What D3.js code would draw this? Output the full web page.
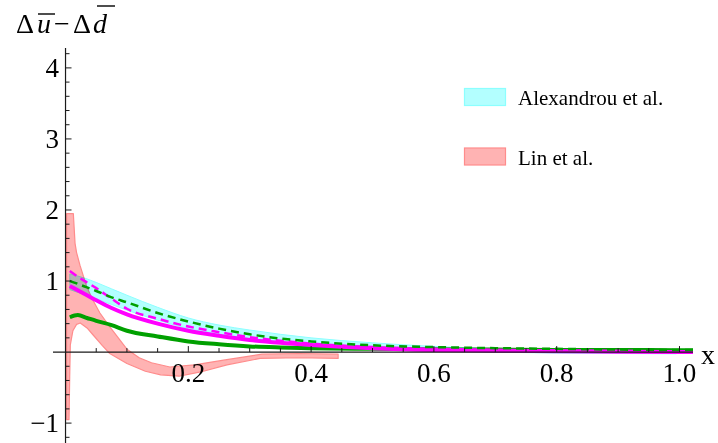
<!DOCTYPE html>
<html><head><meta charset="utf-8">
<script src="https://cdn.jsdelivr.net/npm/d3@7"></script>
<style>
body{margin:0;background:#fff;}
svg{display:block;}
</style></head>
<body><svg id="c" width="718" height="443"></svg>
<script>
// ---- data ----
const linX    = [0.0018,0.0057,0.0068,0.0078,0.0127,0.0155,0.018,0.0236,0.0345,0.044,0.056,0.07,0.085,0.1,0.12,0.14,0.17,0.21,0.26,0.32,0.38,0.444];
const linUp   = [1.95,1.95,1.95,1.95,1.95,1.53,1.40,1.22,0.92,0.74,0.55,0.38,0.21,0.04,-0.08,-0.15,-0.21,-0.18,-0.11,-0.03,-0.02,-0.03];
const linLoX  = [0.0018,0.0057,0.0068,0.0078,0.012,0.018,0.024,0.035,0.045,0.06,0.072,0.1,0.13,0.155,0.185,0.22,0.263,0.317,0.38,0.444];
const linLo   = [-0.95,-0.95,-0.35,0.1,0.30,0.39,0.41,0.34,0.24,0.09,-0.02,-0.16,-0.27,-0.32,-0.34,-0.28,-0.18,-0.09,-0.08,-0.09];

const alexX   = [0.007,0.02,0.035,0.05,0.075,0.1,0.15,0.2,0.25,0.3,0.35,0.4,0.5,0.6,0.7,0.8,0.9,0.995];
const alexUp  = [1.10,1.07,1.03,0.98,0.89,0.80,0.63,0.48,0.38,0.31,0.25,0.20,0.13,0.08,0.05,0.035,0.025,0.02];
const alexLo  = [0.88,0.84,0.80,0.75,0.67,0.59,0.45,0.33,0.25,0.19,0.14,0.10,0.05,0.02,0.0,-0.015,-0.02,-0.025];

const curveX       = [0.007,0.02,0.035,0.05,0.075,0.1,0.15,0.2,0.25,0.3,0.35,0.4,0.5,0.6,0.7,0.8,0.9,1.0,1.022];
const greenDashed  = [1.00,0.96,0.91,0.86,0.77,0.70,0.55,0.43,0.33,0.25,0.19,0.15,0.095,0.07,0.055,0.045,0.035,0.03,0.03];
const magentaDashed= [1.14,1.06,0.98,0.90,0.75,0.61,0.47,0.36,0.28,0.21,0.16,0.12,0.07,0.045,0.03,0.02,0.015,0.01,0.01];
const magentaSolid = [0.93,0.87,0.80,0.73,0.62,0.53,0.40,0.30,0.23,0.17,0.13,0.10,0.055,0.03,0.02,0.01,0.005,0.0,0.0];
const greenSolid   = [0.49,0.52,0.48,0.44,0.38,0.30,0.22,0.15,0.11,0.08,0.065,0.055,0.045,0.04,0.035,0.03,0.03,0.025,0.025];

const xTickVals   = [0.2,0.4,0.6,0.8,1.0];
const xTickLabels = ["0.2","0.4","0.6","0.8","1.0"];
const yTickVals   = [-1,1,2,3,4];
const yTickLabels = ["\u22121","1","2","3","4"];
const legendLabels = ["Alexandrou et al.","Lin et al."];

const FONT = "'Liberation Serif', 'Times New Roman', 'DejaVu Serif', serif";

// ---- scales ----
const svg = d3.select("#c");
const x = d3.scaleLinear().domain([-0.0204,1.022]).range([53,693]);
const y = d3.scaleLinear().domain([-1.28,4.28]).range([443,48]);
const X0 = x(0), Y0 = y(0);

// ---- bands ----
const linPoly = linX.map((v,i)=>[x(v),y(linUp[i])]).concat(linLoX.map((v,i)=>[x(v),y(linLo[i])]).reverse());
svg.append("path").attr("d", d3.line()(linPoly)+"Z")
  .attr("fill","#ffb3b3").attr("stroke","#ff8c8c").attr("stroke-width",1.2).attr("stroke-linejoin","round");

const alexArea = d3.area().x((d,i)=>x(alexX[i])).y0((d,i)=>y(alexLo[i])).y1((d,i)=>y(alexUp[i])).curve(d3.curveMonotoneX);
svg.append("path").attr("d", alexArea(alexX))
  .attr("fill","#b3ffff").attr("stroke","#8cffff").attr("stroke-width",1)
  .style("mix-blend-mode","multiply");

// ---- curves ----
const cl = arr => d3.line().x((d,i)=>x(curveX[i])).y((d,i)=>y(arr[i])).curve(d3.curveMonotoneX)(arr);
svg.append("path").attr("d",cl(greenSolid)).attr("fill","none").attr("stroke","#00a000").attr("stroke-width",4);
svg.append("path").attr("d",cl(magentaSolid)).attr("fill","none").attr("stroke","#ff00ff").attr("stroke-width",4);
svg.append("path").attr("d",cl(magentaDashed)).attr("fill","none").attr("stroke","#ff00ff").attr("stroke-width",2.5).attr("stroke-dasharray","8,5");
svg.append("path").attr("d",cl(greenDashed)).attr("fill","none").attr("stroke","#00a000").attr("stroke-width",2.5).attr("stroke-dasharray","8,5");

// ---- axes ----
const axCol = "#1a1a1a";
svg.append("line").attr("x1",53).attr("x2",693).attr("y1",Y0).attr("y2",Y0).attr("stroke",axCol).attr("stroke-width",1.2);
svg.append("line").attr("x1",X0).attr("x2",X0).attr("y1",48).attr("y2",443).attr("stroke",axCol).attr("stroke-width",1.2);

const xMinor = d3.range(1,21).map(i=>i*0.05);
xMinor.forEach(v=>{
  const major = Math.abs(v*5-Math.round(v*5))<1e-6;
  svg.append("line").attr("x1",x(v)).attr("x2",x(v)).attr("y1",Y0).attr("y2",Y0-(major?6:4)).attr("stroke",axCol).attr("stroke-width",1);
});
const yMinor = d3.range(-6,22).map(i=>i*0.2).filter(v=>Math.abs(v)>1e-6);
yMinor.forEach(v=>{
  const major = Math.abs(v-Math.round(v))<1e-6;
  svg.append("line").attr("x1",X0).attr("x2",X0+(major?6:4)).attr("y1",y(v)).attr("y2",y(v)).attr("stroke",axCol).attr("stroke-width",1);
});
xTickVals.forEach((v,i)=>{
  svg.append("text").attr("x",x(v)).attr("y",382).attr("text-anchor","middle")
    .attr("font-family",FONT).attr("font-size",27).text(xTickLabels[i]);
});
yTickVals.forEach((v,i)=>{
  svg.append("text").attr("x",59).attr("y",y(v)+9).attr("text-anchor","end")
    .attr("font-family",FONT).attr("font-size",27).text(yTickLabels[i]);
});
svg.append("text").attr("x",701).attr("y",364).attr("font-family",FONT).attr("font-size",28).text("x");

// y label: Δū−Δd̄
const lab = svg.append("text").attr("y",33).attr("font-family",FONT).attr("font-size",28);
lab.append("tspan").attr("x",16).text("\u0394");
lab.append("tspan").attr("x",37).attr("font-style","italic").text("u");
lab.append("tspan").attr("x",54).text("\u2212");
lab.append("tspan").attr("x",73).text("\u0394");
lab.append("tspan").attr("x",93).attr("font-style","italic").text("d");
svg.append("line").attr("x1",38).attr("x2",55).attr("y1",14).attr("y2",14).attr("stroke","#000").attr("stroke-width",1.4);
svg.append("line").attr("x1",97).attr("x2",115).attr("y1",6).attr("y2",6).attr("stroke","#000").attr("stroke-width",1.4);

// ---- legend ----
const legFill = ["#b3ffff","#ffb3b3"], legStroke = ["#8cffff","#ff8c8c"];
legendLabels.forEach((t,i)=>{
  const yy = 88.5 + i*59.5;
  svg.append("rect").attr("x",464.5).attr("y",yy).attr("width",41).attr("height",17).attr("fill",legFill[i]).attr("stroke",legStroke[i]).attr("stroke-width",1.2);
  svg.append("text").attr("x",518).attr("y",yy+16.5).attr("font-family",FONT).attr("font-size",21).text(t);
});
</script></body></html>
